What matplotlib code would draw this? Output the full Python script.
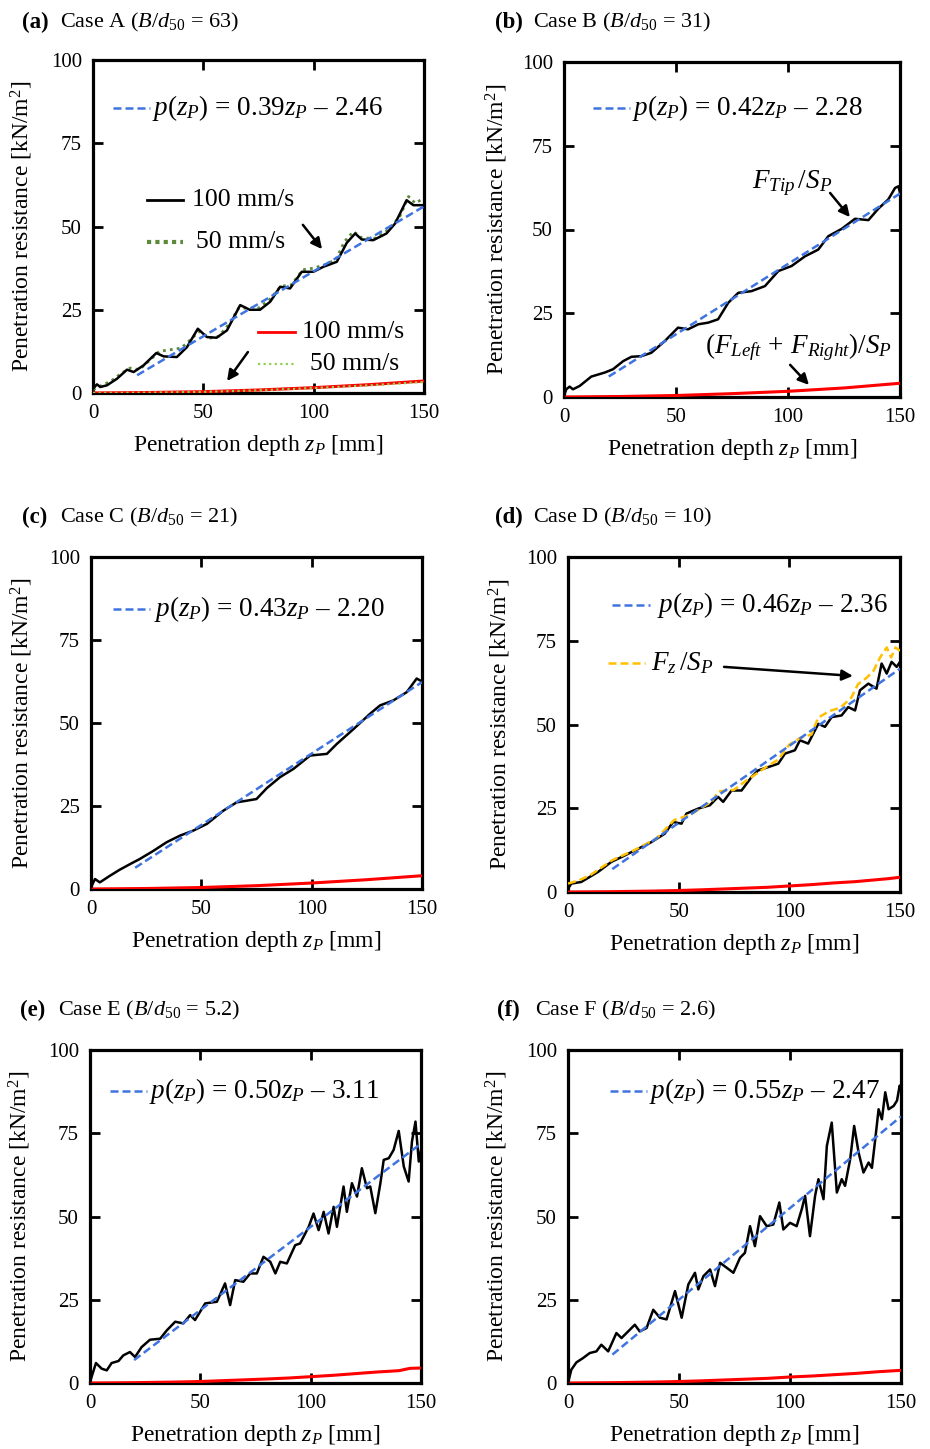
import matplotlib
matplotlib.use("Agg")
import matplotlib.pyplot as plt

plt.rcParams['font.family'] = ['Liberation Serif', 'DejaVu Serif']
plt.rcParams['mathtext.fontset'] = 'custom'
plt.rcParams['mathtext.rm'] = 'Liberation Serif'
plt.rcParams['mathtext.it'] = 'Liberation Serif:italic'
plt.rcParams['mathtext.bf'] = 'Liberation Serif:bold'

# ---------------- data ----------------
xticks = [0, 50, 100, 150]
yticks = [0, 25, 50, 75, 100]
fit_z = [20, 150]

# Case A
zA = [0, 1.8, 3.3, 6.3, 10.9, 15.4, 18.4, 22.9, 28.7, 32, 38, 42.6, 47.5, 51.6, 56, 60.7, 66.7,
      71, 75.7, 80.3, 84.8, 89.3, 94.6, 99.9, 104.4, 110.5, 115, 118.8, 121.8, 127, 133, 136.9,
      142.1, 145.2, 150]
pA_100 = [1.3, 2.6, 1.8, 2.3, 4.3, 7.0, 6.3, 8.3, 12.0, 11.0, 10.8, 13.8, 19.3, 16.8, 16.6, 18.8, 26.4,
          25.0, 25.0, 27.4, 31.9, 31.4, 36.4, 36.4, 37.9, 39.4, 45.1, 47.9, 46.1, 45.9, 47.9, 50.9,
          57.9, 56.4, 56.4]
zA50 = [0, 3, 8, 13, 17, 21, 26, 30, 35, 40, 45, 48, 53, 57, 62, 66, 70, 75, 80, 85, 90, 95, 100,
        105, 110, 114, 118, 122, 128, 134, 139, 143, 146, 150]
pA_50 = [1.0, 2.0, 3.5, 6.0, 7.5, 7.0, 10.0, 12.5, 13.0, 13.5, 16.5, 18.5, 16.5, 17.0, 21.0, 25.5, 25.5,
         25.5, 28.0, 32.0, 32.5, 37.0, 37.5, 38.5, 40.0, 45.5, 48.5, 46.5, 46.5, 49.0, 53.0, 59.0, 57.0, 58.5]
zR = [0, 25, 50, 75, 100, 125, 150]
pA_red100 = [0, 0.15, 0.4, 0.9, 1.6, 2.5, 3.6]
pA_red50 = [0, 0.12, 0.35, 0.8, 1.5, 2.3, 3.3]
fitA = [5.34, 56.04]

# Case B
zB = [0, 1, 2.5, 4, 7, 12.2, 18.2, 21.9, 26.4, 30.1, 34.6, 39, 45, 50.9, 55.4, 59.9, 64.4, 68.8,
      73.3, 77.8, 83.7, 89.7, 95.7, 101.6, 107.6, 113.5, 118, 124, 129.9, 135.9, 140.3, 144.8,
      147.8, 149.3, 150]
pB = [0.3, 2.3, 3.1, 2.3, 3.3, 6.1, 7.3, 8.3, 10.7, 12.0, 12.2, 13.2, 16.7, 20.7, 20.2, 21.7, 22.2, 23.2,
      28.1, 31.1, 31.6, 33.1, 37.6, 39.1, 42.0, 44.0, 48.0, 50.2, 53.2, 52.8, 56.2, 59.0,
      62.4, 62.9, 61.0]
pB_red = [0, 0.15, 0.45, 1.0, 1.7, 2.7, 4.1]
fitB = [6.12, 60.72]

# Case C
zC = [0, 1.8, 4, 8.6, 13, 17.7, 22, 28.3, 34.3, 40.4, 46.4, 52.5, 60, 66, 70.6, 75, 79.7, 85.7,
      91.8, 99.3, 106.9, 111.4, 119, 126.5, 131, 137, 143.1, 147.6, 150]
pC = [0.5, 3.0, 2.0, 4.0, 5.8, 7.5, 9.0, 11.5, 14.1, 16.1, 17.6, 19.6, 23.6, 26.1, 26.6, 27.1, 30.4, 33.7,
      36.2, 40.2, 40.7, 43.7, 48.2, 52.8, 55.3, 56.8, 59.3, 63.4, 62.5]
pC_red = [0, 0.15, 0.45, 1.0, 1.8, 2.8, 4.0]
fitC = [6.40, 62.30]

# Case D
zD = [0, 1.5, 6, 13.6, 19.6, 24.1, 31.7, 37.7, 43.7, 47.5, 51.3, 53.5, 58.8, 64.1, 67.8, 70.1, 73.9,
      78.4, 82.9, 85.9, 90.5, 95, 98, 102.5, 104.8, 108.5, 113.1, 116.1, 119.1, 123.6, 126.6,
      129.7, 131.9, 135.7, 139.4, 141.7, 144, 146.2, 148.5, 150]
pD = [1.0, 2.5, 3.0, 6.0, 9.0, 10.4, 12.9, 14.9, 17.4, 20.9, 20.4, 23.4, 24.9, 25.9, 28.4, 26.9, 30.3,
      30.3, 34.3, 36.3, 37.3, 38.3, 41.3, 42.3, 45.3, 44.3, 50.2, 49.3, 52.2, 52.7, 55.2,
      54.2, 60.2, 62.2, 60.7, 68.2, 65.2, 68.7, 67.2, 68.7]
zDf = [0, 5, 10, 20, 30, 40, 48, 55, 65, 68, 75, 80, 90, 95, 100, 105, 110, 113, 118, 123, 128,
       131, 135, 138, 141, 144, 146, 148, 150]
pD_fz = [2.5, 3.5, 5.0, 9.5, 12.5, 16.0, 21.5, 23.0, 27.0, 30.0, 30.5, 33.0, 37.5, 39.5, 44.0, 46.0,
         47.0, 52.0, 54.0, 55.0, 58.0, 62.0, 64.0, 66.0, 70.0, 73.0, 70.0, 73.0, 72.0]
zRn = [0, 10, 20, 30, 40, 50, 60, 70, 80, 90, 100, 110, 120, 130, 140, 145, 150]
pD_red = [0, 0.05, 0.1, 0.2, 0.3, 0.45, 0.65, 0.9, 1.15, 1.4, 1.8, 2.2, 2.7, 3.1, 3.7, 4.0, 4.4]
fitD = [6.84, 66.64]

# Case E
zE = [0, 2.7, 5.3, 7.6, 9.8, 12.9, 15.1, 18.1, 20.4, 23.4, 27.2, 31.8, 34.8, 38.6, 42.3, 45.4,
      47.6, 52.2, 57.5, 61.2, 63.5, 65.8, 69.5, 72.6, 75.6, 78.6, 81.7, 84, 86.2, 89.2, 93,
      95.2, 99.1, 101.3, 103.6, 105.9, 108.1, 110.4, 111.9, 114.9, 116.4, 118.7, 121, 123.2,
      125.5, 127, 129.3, 131.6, 133.1, 135.4, 137.6, 139.9, 142.2, 144.4, 145.9, 147.5, 149, 150]
pE = [0.3, 6.0, 4.3, 3.8, 6.0, 6.6, 8.3, 9.3, 7.8, 10.8, 13.0, 13.3, 15.8, 18.4, 17.9, 20.4,
      18.9, 23.9, 24.4, 29.9, 23.4, 30.9, 30.4, 32.9, 32.9, 37.9, 36.4, 32.9, 36.4, 35.9, 41.4,
      41.9, 46.9, 50.9, 45.9, 51.4, 44.9, 52.9, 46.9, 59.0, 51.4, 60.0, 56.0, 64.5,
      58.5, 59.0, 51.0, 60.0, 67.0, 67.5, 70.0, 75.7, 65.0, 60.5, 72.5, 78.5, 66.5, 70.0]
pE_red = [0, 0.05, 0.1, 0.2, 0.3, 0.45, 0.7, 0.95, 1.2, 1.5, 1.9, 2.3, 2.8, 3.3, 3.7, 4.4, 4.5]
fitE = [6.89, 71.89]

# Case F
zF = [0, 1.5, 3.8, 6.8, 9.8, 12.8, 15, 18.1, 21.8, 24.1, 27.1, 30.1, 32.3, 35.4, 38.4, 41.4, 44.4,
      48.2, 51.2, 54.2, 57.2, 58.7, 61, 64, 66.2, 68.5, 71.5, 74.5, 77.5, 79.7, 82, 84.2, 86.5,
      89.5, 92.5, 95.2, 97, 100, 103, 105.3, 106.8, 109, 111.3, 112.8, 115.1, 116.6, 118.8,
      121.1, 123.3, 124.8, 127.1, 128.9, 130.9, 133.1, 135.4, 136.9, 138.4, 139.9, 141.4,
      142.9, 144.4, 146.7, 148.2, 149.4, 150]
pF = [0, 4.0, 6.2, 7.5, 9.0, 9.5, 11.5, 9.5, 15.0, 13.5, 15.5, 17.5, 15.5, 16.5, 22.0, 19.6, 19.1,
      27.6, 19.6, 29.6, 33.1, 28.1, 32.1, 34.1, 29.1, 36.1, 34.6, 33.1, 37.6, 39.1, 47.1, 41.1, 50.1,
      47.1, 47.6, 54.2, 46.1, 48.1, 47.1, 52.2, 56.2, 44.1, 56.2, 61.2, 55.2, 71.2, 78.2,
      57.2, 61.2, 59.2, 67.2, 77.2, 69.2, 63.2, 66.2, 64.6, 73.2, 82.2, 79.2,
      87.3, 82.2, 83.2, 84.8, 89.3, 88.3]
pF_red = [0, 0.05, 0.1, 0.2, 0.3, 0.45, 0.65, 0.9, 1.15, 1.4, 1.8, 2.1, 2.5, 2.9, 3.4, 3.6, 3.8]
fitF = [8.53, 80.03]

eqs = {
    'a': r"$p(z_P)$ = 0.39$z_P$ – 2.46",
    'b': r"$p(z_P)$ = 0.42$z_P$ – 2.28",
    'c': r"$p(z_P)$ = 0.43$z_P$ – 2.20",
    'd': r"$p(z_P)$ = 0.46$z_P$ – 2.36",
    'e': r"$p(z_P)$ = 0.50$z_P$ – 3.11",
    'f': r"$p(z_P)$ = 0.55$z_P$ – 2.47",
}
titles = {
    'a': ("(a)", r"Case A ($B/d_{50}$ = 63)"),
    'b': ("(b)", r"Case B ($B/d_{50}$ = 31)"),
    'c': ("(c)", r"Case C ($B/d_{50}$ = 21)"),
    'd': ("(d)", r"Case D ($B/d_{50}$ = 10)"),
    'e': ("(e)", r"Case E ($B/d_{50}$ = 5.2)"),
    'f': ("(f)", r"Case F ($B/d_{50}$ = 2.6)"),
}

# ---------------- layout ----------------
W, H = 930, 1449
fig = plt.figure(figsize=(W / 100, H / 100), dpi=100)

def add_ax(l, b, w, h):
    return fig.add_axes([l / W, 1 - b / H, w / W, h / H])

boxes = {
    'a': (93, 393, 331, 333),
    'b': (564, 397, 336, 335),
    'c': (91, 889, 331, 332),
    'd': (568, 892, 332, 335),
    'e': (90, 1383, 331, 333),
    'f': (568, 1383, 333, 333),
}
title_pos = {'a': (22, 22), 'b': (495, 22), 'c': (22, 517), 'd': (495, 517),
             'e': (20, 1010), 'f': (497, 1010)}
ylab_x = {'a': 22, 'b': 497, 'c': 22, 'd': 500, 'e': 20, 'f': 497}
eq_pos = {  # dash start, dash end, text start, y  (axes fraction)
    'a': (0.060, 0.172, 0.178, 0.856),
    'b': (0.086, 0.196, 0.202, 0.863),
    'c': (0.066, 0.178, 0.190, 0.843),
    'd': (0.133, 0.247, 0.268, 0.857),
    'e': (0.060, 0.172, 0.178, 0.877),
    'f': (0.126, 0.237, 0.243, 0.877),
}

BLUE = '#3F74E0'
RED = '#FF0000'
DGREEN = '#5B8A3A'
LGREEN = '#92D050'
YELLOW = '#FFC000'
FS_TICK = 15
FS_LAB = 17
FS_EQ = 19.5
FS_LEG = 18.5

axes = {}
for key, (l, b, w, h) in boxes.items():
    ax = add_ax(l, b, w, h)
    axes[key] = ax
    ax.set_xlim(0, 150)
    ax.set_ylim(0, 100)
    ax.set_xticks(xticks)
    ax.set_yticks(yticks)
    ax.tick_params(direction='in', length=7, width=2, top=True, right=True,
                   labelsize=FS_TICK, pad=8)
    for sp in ax.spines.values():
        sp.set_linewidth(2.3)
    ax.set_xlabel(r"Penetration depth $z_P$ [mm]", fontsize=FS_LAB, va='center')
    ax.set_ylabel(r"Penetration resistance [kN/m$^2$]", fontsize=FS_LAB, va='center')
    ax.xaxis.set_label_coords(0.5, -0.157)
    ax.yaxis.set_label_coords((ylab_x[key] - l) / w, 0.5)
    tx, ty = title_pos[key]
    fig.text(tx / W, 1 - ty / H, titles[key][0], fontsize=16.5, fontweight='bold', va='center', ha='left')
    fig.text((tx + 38) / W, 1 - ty / H, titles[key][1], fontsize=16, va='center', ha='left')
    d0, d1, t0, yy = eq_pos[key]
    ax.plot([d0, d1], [yy, yy], transform=ax.transAxes, color=BLUE, lw=1.8, dashes=(3.2, 1.6))
    ax.text(t0, yy, eqs[key], transform=ax.transAxes, fontsize=FS_EQ, va='center', ha='left')

def fitline(ax, vals):
    ax.plot(fit_z, vals, color=BLUE, lw=1.8, dashes=(3.2, 1.6), zorder=4)

def arrow(ax, start, end):
    ax.annotate('', xy=end, xytext=start, xycoords='axes fraction', textcoords='axes fraction',
                arrowprops=dict(arrowstyle='-|>', color='k', lw=1.8, mutation_scale=16,
                                shrinkA=0, shrinkB=0))

# Panel a
ax = axes['a']
ax.plot(zR, pA_red100, color=RED, lw=2.2, zorder=3)
ax.plot(zR, pA_red50, color=LGREEN, lw=1.6, ls=(0, (1, 1.5)), zorder=3)
ax.plot(zA50, pA_50, color=DGREEN, lw=2.0, ls=(0, (1, 1.5)), zorder=3)
ax.plot(zA, pA_100, color='k', lw=1.8, zorder=3)
fitline(ax, fitA)
ax.plot([0.163, 0.272], [0.580, 0.580], transform=ax.transAxes, color='k', lw=2)
ax.text(0.298, 0.580, "100 mm/s", transform=ax.transAxes, fontsize=FS_LEG, va='center')
ax.plot([0.163, 0.272], [0.453, 0.453], transform=ax.transAxes, color=DGREEN, lw=3, ls=(0, (1, 1)))
ax.text(0.312, 0.453, "50 mm/s", transform=ax.transAxes, fontsize=FS_LEG, va='center')
arrow(ax, (0.634, 0.505), (0.692, 0.432))
ax.plot([0.498, 0.610], [0.183, 0.183], transform=ax.transAxes, color=RED, lw=2)
ax.text(0.630, 0.183, "100 mm/s", transform=ax.transAxes, fontsize=FS_LEG, va='center')
ax.plot([0.498, 0.610], [0.087, 0.087], transform=ax.transAxes, color=LGREEN, lw=1.6, ls=(0, (1, 1.5)))
ax.text(0.655, 0.087, "50 mm/s", transform=ax.transAxes, fontsize=FS_LEG, va='center')
arrow(ax, (0.468, 0.123), (0.405, 0.036))

# Panel b
ax = axes['b']
ax.plot(zR, pB_red, color=RED, lw=2.2, zorder=3)
ax.plot(zB, pB, color='k', lw=1.8, zorder=3)
fitline(ax, fitB)
ax.text(0.56, 0.639, r"$F_{Tip}\,/S_P$", transform=ax.transAxes, fontsize=FS_EQ, va='center')
arrow(ax, (0.792, 0.609), (0.851, 0.537))
ax.text(0.42, 0.149, r"$(F_{Left}\,+\,F_{Right})/S_P$", transform=ax.transAxes, fontsize=FS_EQ, va='center')
arrow(ax, (0.673, 0.096), (0.729, 0.036))

# Panel c
ax = axes['c']
ax.plot(zR, pC_red, color=RED, lw=2.2, zorder=3)
ax.plot(zC, pC, color='k', lw=1.8, zorder=3)
fitline(ax, fitC)

# Panel d
ax = axes['d']
ax.plot(zRn, pD_red, color=RED, lw=2.2, zorder=3)
ax.plot(zD, pD, color='k', lw=1.8, zorder=3)
ax.plot(zDf, pD_fz, color=YELLOW, lw=1.8, dashes=(3.2, 1.6), zorder=3)
fitline(ax, fitD)
ax.plot([0.12, 0.232], [0.684, 0.684], transform=ax.transAxes, color=YELLOW, lw=1.8, dashes=(3.2, 1.6))
ax.text(0.25, 0.684, r"$F_z\,/S_P$", transform=ax.transAxes, fontsize=FS_EQ, va='center')
arrow(ax, (0.47, 0.672), (0.858, 0.645))

# Panel e
ax = axes['e']
ax.plot(zRn, pE_red, color=RED, lw=2.2, zorder=3)
ax.plot(zE, pE, color='k', lw=1.8, zorder=3)
fitline(ax, fitE)

# Panel f
ax = axes['f']
ax.plot(zRn, pF_red, color=RED, lw=2.2, zorder=3)
ax.plot(zF, pF, color='k', lw=1.8, zorder=3)
fitline(ax, fitF)

fig.savefig("out.png", dpi=100)
